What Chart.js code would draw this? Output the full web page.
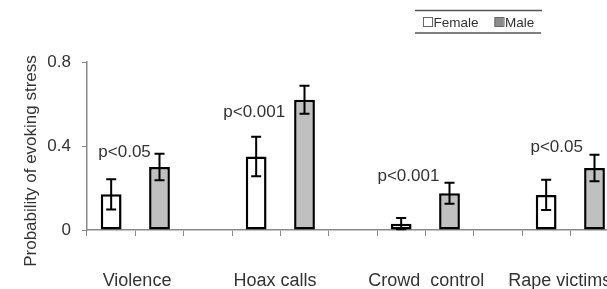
<!DOCTYPE html>
<html>
<head>
<meta charset="utf-8">
<script src="https://cdn.jsdelivr.net/npm/chart.js@4.4.0/dist/chart.umd.min.js"></script>
<style>
  html, body { margin: 0; padding: 0; background: #fff; overflow: hidden; }
  #wrap { width: 607px; height: 289px; overflow: hidden; }
</style>
</head>
<body>
<div id="wrap"><canvas id="stressChart" width="667" height="289"></canvas></div>
<script>
// groups on the x axis (each group = female slot, male slot, empty slot)
const groups = ["Violence", "Hoax calls", "Crowd  control", "Rape victims"];
const groupSlots = [0.535, 3.39, 6.52, 9.28]; // label centre, in slot units
const femaleVals = [0.17, 0.35, 0.03, 0.167];
const femaleErr = [0.072, 0.094, 0.027, 0.072];
const maleVals = [0.30, 0.62, 0.175, 0.295];
const maleErr = [0.063, 0.067, 0.05, 0.063];
const yTicks = [0, 0.4, 0.8];
// significance notes: text, x in slot units (right end), y in data units (baseline)
const pTexts = ["p<0.05", "p<0.001", "p<0.001", "p<0.05"];
const pSlots = [0.82, 3.6, 6.79, 9.76];
const pVals = [0.348, 0.54, 0.235, 0.372];

const TEXT = "#333";
const AXIS = "#8a8a8a";

// 3 slots per group
const slotLabels = [];
const femaleData = [];
const maleData = [];
groups.forEach((g, i) => {
  slotLabels.push(g + " F", g + " M", "");
  femaleData.push(femaleVals[i], null, null);
  maleData.push(null, maleVals[i], null);
});

const extrasPlugin = {
  id: "extras",
  afterDatasetsDraw(chart) {
    const ctx = chart.ctx;
    const x = chart.scales.x;
    const y = chart.scales.y;

    // error bars
    ctx.save();
    ctx.strokeStyle = "#000";
    ctx.lineWidth = 2;
    const drawErr = (slot, v, e) => {
      const cx = x.getPixelForValue(slot);
      const top = y.getPixelForValue(v + e);
      const bot = y.getPixelForValue(Math.max(0, v - e));
      ctx.beginPath();
      ctx.moveTo(cx, top); ctx.lineTo(cx, bot);
      ctx.moveTo(cx - 5, top); ctx.lineTo(cx + 5, top);
      ctx.moveTo(cx - 5, bot); ctx.lineTo(cx + 5, bot);
      ctx.stroke();
    };
    groups.forEach((g, i) => {
      drawErr(i * 3, femaleVals[i], femaleErr[i]);
      drawErr(i * 3 + 1, maleVals[i], maleErr[i]);
    });
    ctx.restore();
  },
  afterDraw(chart) {
    const ctx = chart.ctx;
    const x = chart.scales.x;
    const y = chart.scales.y;
    const area = chart.chartArea;
    ctx.save();
    ctx.fillStyle = TEXT;

    // p-value notes
    ctx.font = "17px Arial, 'Liberation Sans', sans-serif";
    ctx.textAlign = "right";
    ctx.textBaseline = "alphabetic";
    pTexts.forEach((t, i) => {
      ctx.fillText(t, x.getPixelForValue(pSlots[i]), y.getPixelForValue(pVals[i]));
    });

    // group labels
    ctx.font = "18px Arial, 'Liberation Sans', sans-serif";
    ctx.textAlign = "center";
    groups.forEach((g, i) => {
      ctx.fillText(g, x.getPixelForValue(groupSlots[i]), area.bottom + 56);
    });

    // y axis title
    ctx.font = "17px Arial, 'Liberation Sans', sans-serif";
    ctx.translate(31, 161);
    ctx.rotate(-Math.PI / 2);
    ctx.textBaseline = "middle";
    ctx.fillText("Probability of evoking stress", 0, 0);
    ctx.restore();

    // legend box
    ctx.save();
    ctx.strokeStyle = "#555";
    ctx.lineWidth = 1.5;
    ctx.beginPath();
    ctx.moveTo(415, 10.5); ctx.lineTo(542, 10.5);
    ctx.moveTo(415, 33); ctx.lineTo(541, 33);
    ctx.stroke();
    ctx.font = "13.5px Arial, 'Liberation Sans', sans-serif";
    ctx.textBaseline = "alphabetic";
    ctx.textAlign = "left";
    const items = [
      { ds: chart.data.datasets[0], bx: 423, fill: "#fff" },
      { ds: chart.data.datasets[1], bx: 494.5, fill: "#8c8c8c" }
    ];
    items.forEach((it) => {
      ctx.fillStyle = it.fill;
      ctx.fillRect(it.bx, 17, 9, 9);
      ctx.strokeStyle = "#666";
      ctx.lineWidth = 1;
      ctx.strokeRect(it.bx + 0.5, 17.5, 9, 9);
      ctx.fillStyle = TEXT;
      ctx.fillText(it.ds.label, it.bx + 10.5, 27);
    });
    ctx.restore();
  }
};

new Chart(document.getElementById("stressChart"), {
  type: "bar",
  data: {
    labels: slotLabels,
    datasets: [
      {
        label: "Female",
        data: femaleData,
        backgroundColor: "#ffffff",
        borderColor: "#000",
        borderWidth: 2.5,
        borderSkipped: false,
        grouped: false,
        barPercentage: 0.43,
        categoryPercentage: 1
      },
      {
        label: "Male",
        data: maleData,
        backgroundColor: "#c0c0c0",
        borderColor: "#000",
        borderWidth: 2.5,
        borderSkipped: false,
        grouped: false,
        barPercentage: 0.43,
        categoryPercentage: 1
      }
    ]
  },
  options: {
    responsive: false,
    animation: false,
    devicePixelRatio: 1,
    layout: { padding: { top: 62, right: 0, left: 0, bottom: 0 } },
    plugins: { legend: { display: false }, tooltip: { enabled: false } },
    scales: {
      x: {
        offset: true,
        grid: { offset: true, drawOnChartArea: false, color: AXIS, tickLength: 6 },
        border: { color: AXIS, width: 1.5 },
        ticks: { display: false },
        afterFit: (s) => { s.height = 59; }
      },
      y: {
        min: 0,
        max: 0.8,
        afterBuildTicks: (s) => { s.ticks = yTicks.map((v) => ({ value: v })); },
        grid: { drawOnChartArea: false, color: AXIS, tickLength: 5 },
        border: { color: AXIS, width: 1.5 },
        ticks: {
          color: TEXT,
          padding: 11,
          font: { size: 17, family: "Arial, 'Liberation Sans', sans-serif" },
          callback: (v) => String(v)
        },
        afterFit: (s) => { s.width = 87; }
      }
    }
  },
  plugins: [extrasPlugin]
});
</script>
</body>
</html>
